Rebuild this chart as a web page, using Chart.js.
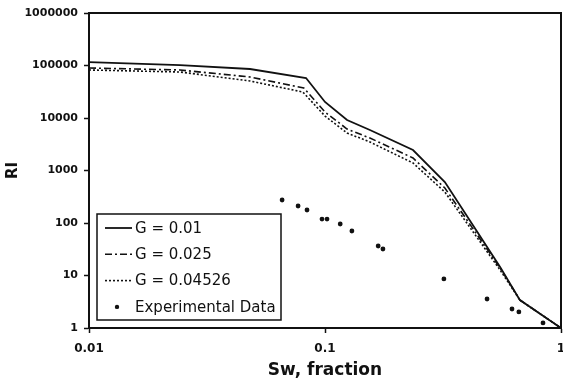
<!DOCTYPE html>
<html>
<head>
<meta charset="utf-8">
<script src="https://cdn.jsdelivr.net/npm/chart.js@4"></script>
<style>
  html, body { margin: 0; padding: 0; background: #fff; }
  #wrap { width: 563px; height: 387px; }
</style>
</head>
<body>
<div id="wrap"><canvas id="chart"></canvas></div>
<script>
// values (log-log)
const swG001 = [0.01, 0.0243, 0.0481, 0.0831, 0.1, 0.124, 0.155, 0.236, 0.322, 0.552, 0.67, 1.0];
const riG001 = [116000, 102000, 85800, 57800, 20200, 9160, 5910, 2455, 604, 14.5, 3.4, 1];

const swG0025 = [0.01, 0.0243, 0.0481, 0.0813, 0.1, 0.124, 0.155, 0.236, 0.322, 0.552, 0.67, 1.0];
const riG0025 = [89600, 82100, 60400, 37300, 13000, 6170, 4160, 1730, 464, 13.9, 3.4, 1];

const swG04526 = [0.01, 0.0243, 0.0481, 0.0805, 0.1, 0.124, 0.155, 0.236, 0.322, 0.552, 0.67, 1.0];
const riG04526 = [82100, 75200, 50700, 31300, 10900, 5180, 3490, 1390, 389, 12.7, 3.4, 1];

const swExp = [0.0658, 0.0769, 0.0839, 0.0971, 0.102, 0.116, 0.130, 0.168, 0.176, 0.319, 0.486, 0.620, 0.663, 0.839];
const riExp = [274, 211, 177, 119, 119, 95.7, 70.4, 36.5, 32, 8.6, 3.57, 2.30, 2.02, 1.25];

const xTicks = [0.01, 0.1, 1];
const yTicks = [1, 10, 100, 1000, 10000, 100000, 1000000];

const ink = "#111";

function pairs(xs, ys) {
  return xs.map((x, i) => ({ x: x, y: ys[i] }));
}

// box legend inside the plot, bottom left
const boxLegend = {
  id: "boxLegend",
  afterDraw(chart) {
    const { ctx, chartArea } = chart;
    const x0 = chartArea.left + 8;
    const y0 = chartArea.top + 201;
    const w = 184, h = 106;
    ctx.save();
    ctx.fillStyle = "#fff";
    ctx.fillRect(x0, y0, w, h);
    ctx.strokeStyle = ink;
    ctx.lineWidth = 1.5;
    ctx.setLineDash([]);
    ctx.strokeRect(x0, y0, w, h);
    ctx.font = "15px 'DejaVu Sans'";
    ctx.textBaseline = "middle";
    chart.data.datasets.forEach((ds, i) => {
      const y = y0 + 14 + i * 26.3;
      if (ds.showLine === false) {
        ctx.fillStyle = ink;
        ctx.beginPath();
        ctx.arc(x0 + 20, y, 2.2, 0, Math.PI * 2);
        ctx.fill();
      } else {
        ctx.strokeStyle = ink;
        ctx.lineWidth = ds.borderWidth;
        ctx.setLineDash(ds.borderDash || []);
        ctx.beginPath();
        ctx.moveTo(x0 + 8, y);
        ctx.lineTo(x0 + 35, y);
        ctx.stroke();
        ctx.setLineDash([]);
      }
      ctx.fillStyle = ink;
      ctx.fillText(ds.label, x0 + 38, y + 1);
    });
    ctx.restore();
  }
};

// top and right edges of the frame
const frame = {
  id: "frame",
  afterDraw(chart) {
    const { ctx, chartArea: a } = chart;
    ctx.save();
    ctx.strokeStyle = ink;
    ctx.lineWidth = 2;
    ctx.beginPath();
    ctx.moveTo(a.left, a.top);
    ctx.lineTo(a.right, a.top);
    ctx.lineTo(a.right, a.bottom);
    ctx.stroke();
    ctx.restore();
  }
};

new Chart(document.getElementById("chart"), {
  type: "line",
  data: {
    datasets: [
      {
        label: "G = 0.01",
        data: pairs(swG001, riG001),
        borderColor: ink,
        borderWidth: 1.8,
        pointRadius: 0,
      },
      {
        label: "G = 0.025",
        data: pairs(swG0025, riG0025),
        borderColor: ink,
        borderWidth: 1.6,
        borderDash: [7, 3, 2, 3],
        pointRadius: 0,
      },
      {
        label: "G = 0.04526",
        data: pairs(swG04526, riG04526),
        borderColor: ink,
        borderWidth: 1.6,
        borderDash: [2, 2],
        pointRadius: 0,
      },
      {
        label: "Experimental Data",
        data: pairs(swExp, riExp),
        showLine: false,
        pointRadius: 2.4,
        pointBackgroundColor: ink,
        pointBorderWidth: 0,
      },
    ],
  },
  options: {
    responsive: true,
    maintainAspectRatio: false,
    animation: false,
    layout: { autoPadding: false, padding: { top: 13, right: 2, left: 0, bottom: 0 } },
    plugins: {
      legend: { display: false },
      tooltip: { enabled: false },
    },
    scales: {
      x: {
        type: "logarithmic",
        min: 0.01,
        max: 1,
        afterBuildTicks: (scale) => {
          scale.ticks = xTicks.map((v) => ({ value: v }));
        },
        afterFit: (scale) => {
          scale.height = 59;
          scale.paddingRight = 0;
        },
        ticks: {
          color: ink,
          padding: 9,
          maxRotation: 0,
          font: { family: "'DejaVu Sans'", size: 12, weight: "bold" },
          callback: (v) => String(v),
        },
        grid: { drawOnChartArea: false, tickLength: 5, color: ink, tickWidth: 1.5 },
        border: { color: ink, width: 2 },
        title: {
          display: true,
          text: "Sw, fraction",
          color: ink,
          font: { family: "'DejaVu Sans'", size: 17, weight: "bold" },
          padding: { top: 0, bottom: 6 },
        },
      },
      y: {
        type: "logarithmic",
        min: 1,
        max: 1000000,
        afterBuildTicks: (scale) => {
          scale.ticks = yTicks.map((v) => ({ value: v }));
        },
        afterFit: (scale) => {
          scale.width = 89;
        },
        ticks: {
          color: ink,
          padding: 6,
          font: { family: "'DejaVu Sans'", size: 11, weight: "bold" },
          callback: (v) => String(v),
        },
        grid: { drawOnChartArea: false, tickLength: 5, color: ink, tickWidth: 1.5 },
        border: { color: ink, width: 2 },
        title: {
          display: true,
          text: "RI",
          color: ink,
          font: { family: "'DejaVu Sans'", size: 15, weight: "bold" },
          padding: { top: 4, bottom: 0 },
        },
      },
    },
  },
  plugins: [boxLegend, frame],
});
</script>
</body>
</html>
